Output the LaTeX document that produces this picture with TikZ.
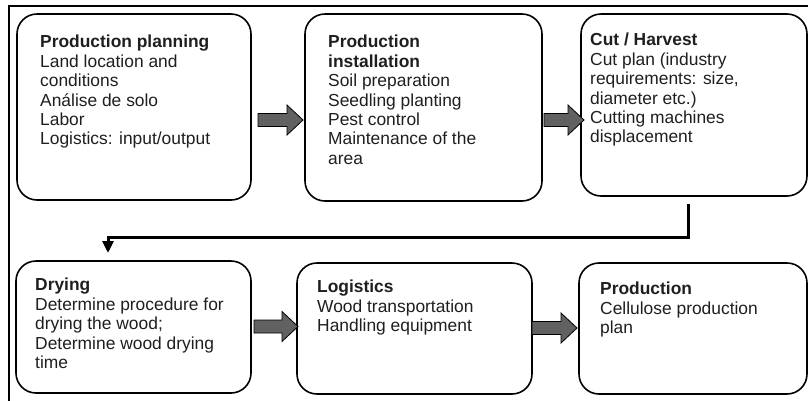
\documentclass[tikz,border=0pt]{standalone}
\usepackage{fontspec}
\setmainfont{Liberation Sans}
\usetikzlibrary{arrows.meta,calc}
\tikzset{
  stage/.style={draw=black, line width=1.6pt, rounded corners=20pt, inner sep=0pt, fill=white},
  stagetext/.style={anchor=north west, inner sep=0pt, align=left, text=black!88,
    font=\fontsize{17.4}{19.4}\selectfont},
  blk/.style={draw=black, line width=0.8pt, fill=black!62, line join=miter},
  conn/.style={draw=black, line width=3pt, -{Triangle[length=12pt,width=11pt]}},
  frame/.style={draw=black, line width=2pt}
}
\newcommand{\blockarrow}[2]{%
  \draw[blk] #1 ++(0,-6.5) -- ++({#2-16},0) -- ++(0,-8.5) -- ++(16,15)
    -- ++(-16,15) -- ++(0,-8.5) -- ++({-(#2-16)},0) -- cycle;}
\begin{document}
\begin{tikzpicture}[x=1pt,y=-1pt]
\useasboundingbox (0,0) rectangle (808,400);
\clip (0,0) rectangle (808,400);
\fill[white] (0,0) rectangle (808,400);
\draw[frame] (9,6) rectangle (812,404);

% stage boxes
\node[stage, minimum width=234pt, minimum height=186pt] (b1) at (134,107) {};
\node[stage, minimum width=237pt, minimum height=187pt] (b2) at (423.5,107.5) {};
\node[stage, minimum width=226pt, minimum height=182pt] (b3) at (694,105) {};
\node[stage, minimum width=235pt, minimum height=132pt] (b4) at (133.5,327) {};
\node[stage, minimum width=235pt, minimum height=131pt] (b5) at (414.5,328.5) {};
\node[stage, minimum width=228pt, minimum height=131pt] (b6) at (693,328.5) {};

% texts
\node[stagetext] (t1) at (40,35) {\textbf{Production planning}\\Land location and\\conditions\\Análise de solo\\Labor\\Logistics: input/output};
\node[stagetext] (t2) at (328,35) {\textbf{Production}\\\textbf{installation}\\Soil preparation\\Seedling planting\\Pest control\\Maintenance of the\\area};
\node[stagetext] (t3) at (590,33) {\textbf{Cut / Harvest}\\Cut plan (industry\\requirements: size,\\diameter etc.)\\Cutting machines\\displacement};
\node[stagetext] (t4) at (35,278) {\textbf{Drying}\\Determine procedure for\\drying the wood;\\Determine wood drying\\time};
\node[stagetext] (t5) at (317,280) {\textbf{Logistics}\\Wood transportation\\Handling equipment};
\node[stagetext] (t6) at (600,282) {\textbf{Production}\\Cellulose production\\plan};

% block arrows
\blockarrow{(258,120)}{45}
\blockarrow{(544,120)}{40}
\blockarrow{(254,326.5)}{44}
\blockarrow{(532,328)}{45}

% elbow connector from Cut/Harvest to Drying
\coordinate (c1) at (688,204);
\coordinate (elb) at (108,237);
\coordinate (c2) at (108,253);
\draw[conn] (c1) |- (elb) -- (c2);
\end{tikzpicture}
\end{document}
